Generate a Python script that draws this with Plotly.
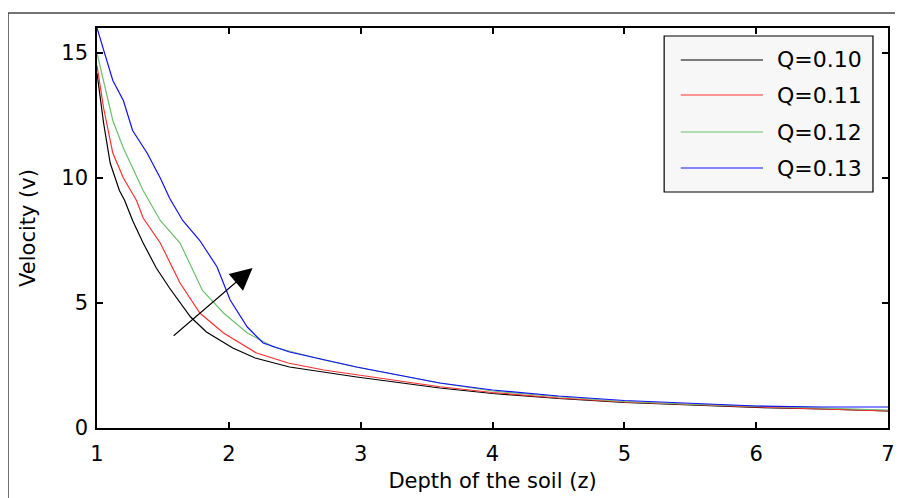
import plotly.graph_objects as go

# Depth (z) and velocity (v), one set per Q value
z_q010 = [1.0, 1.05, 1.1, 1.17, 1.21, 1.27, 1.35, 1.45, 1.55, 1.71, 1.83, 2.03, 2.2, 2.46, 2.97, 3.6, 4.0, 4.5, 5.0, 5.5, 6.0, 6.5, 7.0]
v_q010 = [14.2, 12.2, 10.6, 9.5, 9.1, 8.3, 7.4, 6.4, 5.6, 4.44, 3.84, 3.2, 2.8, 2.44, 2.04, 1.6, 1.38, 1.18, 1.02, 0.92, 0.82, 0.76, 0.68]

z_q011 = [1.0, 1.05, 1.12, 1.2, 1.3, 1.35, 1.48, 1.63, 1.78, 1.96, 2.21, 2.45, 2.72, 3.0, 3.6, 4.0, 4.5, 5.0, 5.5, 6.0, 6.5, 7.0]
v_q011 = [14.5, 12.8, 11.0, 10.0, 9.1, 8.4, 7.4, 5.8, 4.6, 3.8, 3.0, 2.6, 2.32, 2.1, 1.65, 1.42, 1.2, 1.04, 0.93, 0.84, 0.76, 0.68]

z_q012 = [1.0, 1.05, 1.12, 1.2, 1.27, 1.35, 1.48, 1.63, 1.8, 1.96, 2.14, 2.34, 2.72, 3.0, 3.6, 4.0, 4.5, 5.0, 5.5, 6.0, 6.5, 7.0]
v_q012 = [15.0, 13.9, 12.3, 11.2, 10.4, 9.5, 8.3, 7.4, 5.5, 4.6, 3.8, 3.24, 2.72, 2.4, 1.8, 1.48, 1.25, 1.06, 0.95, 0.86, 0.8, 0.72]

z_q013 = [1.0, 1.05, 1.12, 1.2, 1.27, 1.38, 1.48, 1.55, 1.65, 1.78, 1.91, 2.01, 2.14, 2.26, 2.46, 2.97, 3.6, 4.0, 4.5, 5.0, 5.5, 6.0, 6.5, 7.0]
v_q013 = [16.0, 15.1, 13.9, 13.1, 11.9, 11.0, 10.0, 9.2, 8.3, 7.5, 6.45, 5.12, 4.04, 3.4, 3.04, 2.44, 1.8, 1.52, 1.28, 1.1, 0.98, 0.88, 0.84, 0.84]

series_names = ["Q=0.10", "Q=0.11", "Q=0.12", "Q=0.13"]
series_colors = ["#000000", "#ff3030", "#6cbf6c", "#1010ff"]

x_ticks = [1, 2, 3, 4, 5, 6, 7]
y_ticks = [0, 5, 10, 15]

# Arrow (tail -> head) in data units
arrow_tail = (1.57, 3.64)
arrow_head = (2.18, 6.4)

FONT = "DejaVu Sans"

fig = go.Figure()
for zs, vs, name, col in zip([z_q010, z_q011, z_q012, z_q013],
                             [v_q010, v_q011, v_q012, v_q013],
                             series_names, series_colors):
    fig.add_trace(go.Scatter(x=zs, y=vs, mode="lines", name=name,
                             line=dict(color=col, width=1.2), showlegend=False))

axis_common = dict(showgrid=False, zeroline=False, showline=True, linecolor="black",
                   linewidth=1.5, mirror="ticks", ticks="inside", ticklen=6,
                   tickcolor="black", tickwidth=1.5,
                   tickfont=dict(family=FONT, size=21, color="black"))

# page body has an 8px margin: the figure is sized so the plot area lands where it should
fig.update_layout(
    width=895, height=490,
    margin=dict(l=89, r=15, t=20, b=70, autoexpand=False),
    paper_bgcolor="white", plot_bgcolor="white",
    font=dict(family=FONT, color="black"),
    xaxis=dict(range=[1, 7], tickvals=x_ticks, ticklabelstandoff=6,
               title=dict(text="Depth of the soil (z)", font=dict(family=FONT, size=21), standoff=8),
               **axis_common),
    yaxis=dict(range=[0, 16], tickvals=y_ticks, ticklabelstandoff=3,
               title=dict(text="Velocity (v)", font=dict(family=FONT, size=21), standoff=20),
               **axis_common),
    showlegend=False,
)

fig.add_annotation(x=arrow_head[0], y=arrow_head[1], ax=arrow_tail[0], ay=arrow_tail[1],
                   xref="x", yref="y", axref="x", ayref="y", text="",
                   showarrow=True, arrowhead=2, arrowsize=4, arrowwidth=1.1,
                   arrowcolor="black")

# legend box (drawn by hand to get the long line samples of the original)
leg_x0, leg_x1, leg_y0, leg_y1 = 0.717, 0.981, 0.59, 0.98
fig.add_shape(type="rect", xref="paper", yref="paper", x0=leg_x0, x1=leg_x1, y0=leg_y0, y1=leg_y1,
              fillcolor="#f7f7f7", line=dict(color="black", width=1.2), layer="above")
row_y = [0.92, 0.8325, 0.74, 0.65]
for name, col, yy in zip(series_names, series_colors, row_y):
    fig.add_shape(type="line", xref="paper", yref="paper", x0=0.738, x1=0.842, y0=yy, y1=yy,
                  line=dict(color=col, width=1.2), layer="above")
    fig.add_annotation(x=0.857, y=yy, xref="paper", yref="paper", text=name, showarrow=False,
                       xanchor="left", yanchor="middle",
                       font=dict(family=FONT, size=22, color="black"))

# outer frame (top and left edges)
fig.add_shape(type="line", xref="paper", yref="paper", x0=-0.1125, x1=1.03, y0=1.0375, y1=1.0375,
              line=dict(color="#444444", width=1.5))
fig.add_shape(type="line", xref="paper", yref="paper", x0=-0.1125, x1=-0.1125, y0=1.0375, y1=-0.18,
              line=dict(color="#444444", width=1.5))

fig.write_html("out.html")
